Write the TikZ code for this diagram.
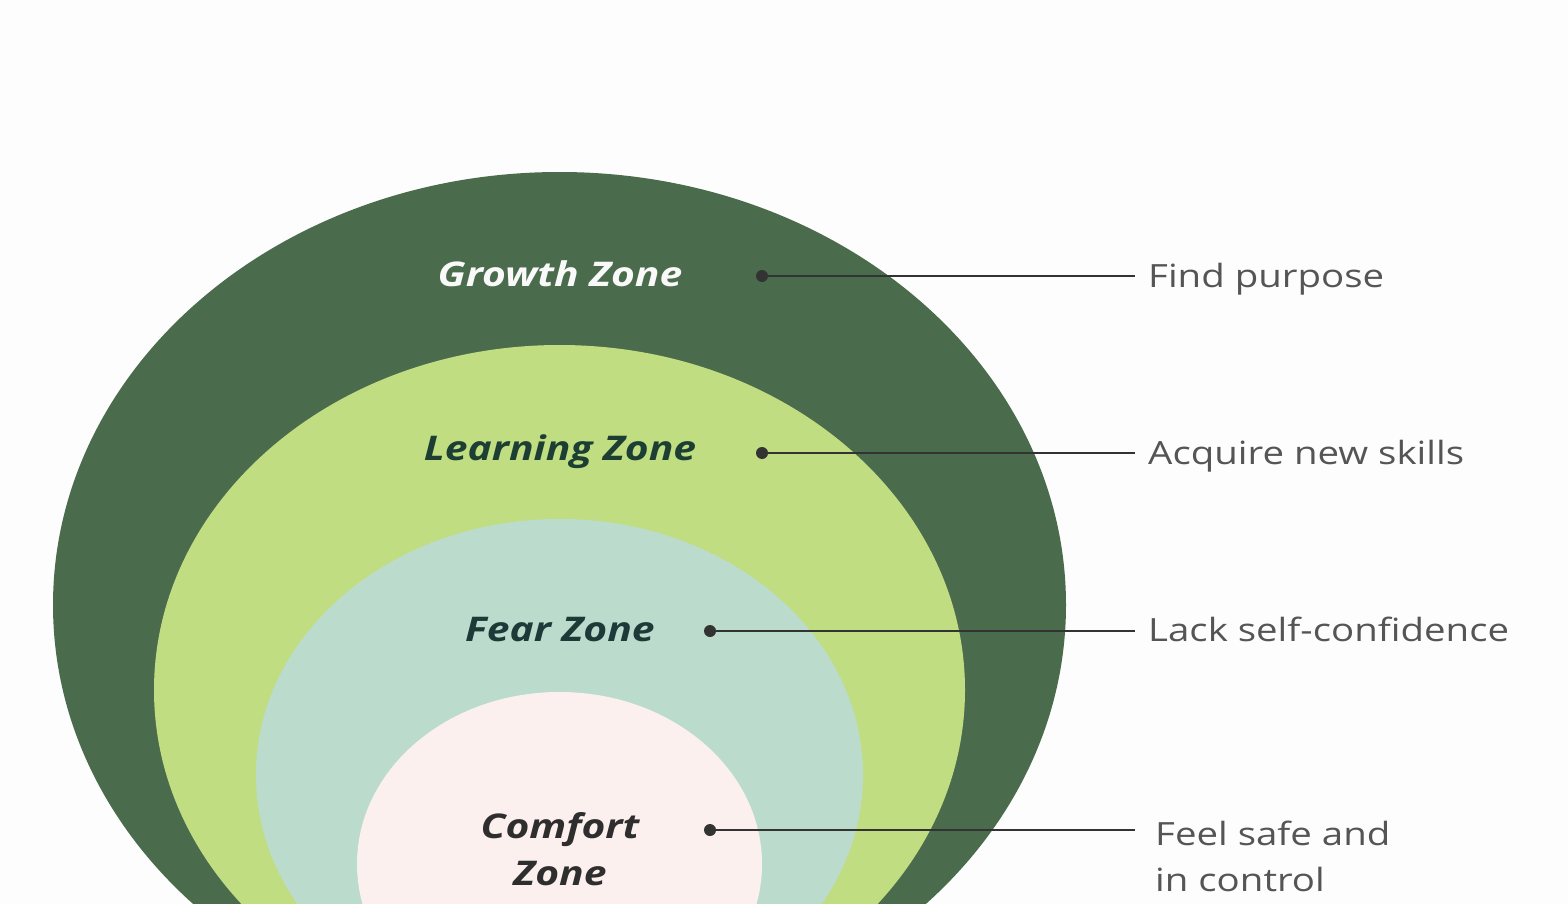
\documentclass[tikz,border=0pt]{standalone}
\usepackage{fontspec}
\setmainfont{Open Sans}[FakeStretch=1.2]
\definecolor{bgc}{HTML}{FDFDFD}
\definecolor{growth}{HTML}{4B6B4D}
\definecolor{learn}{HTML}{C0DD82}
\definecolor{fear}{HTML}{BBDCCC}
\definecolor{comfort}{HTML}{FCF0EE}
\definecolor{linec}{HTML}{333333}
\definecolor{labc}{HTML}{555555}
\definecolor{learntxt}{HTML}{1D3F33}
\definecolor{feartxt}{HTML}{1E3A38}
\definecolor{comftxt}{HTML}{2E2E2E}
\begin{document}
\begin{tikzpicture}[x=1pt,y=-1pt,
  zone/.style={font=\fontsize{34}{47}\selectfont\bfseries\itshape, align=center, inner sep=0pt},
  lab/.style={font=\fontsize{32}{46}\selectfont, text=labc, anchor=west, align=left, inner sep=0pt},
  conn/.style={draw=linec, line width=2pt},
  dotc/.style={circle, fill=linec, minimum size=12pt, inner sep=0pt}]
\useasboundingbox (0,0) rectangle (1568,904);
\fill[bgc] (0,0) rectangle (1568,904);
\begin{scope}
\clip (0,0) rectangle (1568,904);
\fill[growth] (559.5,605) ellipse [x radius=506.5, y radius=433];
\fill[learn] (559.5,690) ellipse [x radius=405.5, y radius=345];
\fill[fear] (559.5,775) ellipse [x radius=303.5, y radius=256];
\fill[comfort] (559.5,864) ellipse [x radius=202.5, y radius=172];
\end{scope}
\node[zone, text=white!96!growth] (gz) at (560,274) {Growth Zone};
\node[zone, text=learntxt] (lz) at (560,452) {Learning Zone};
\node[zone, text=feartxt] (fz) at (560,630) {Fear Zone};
\node[zone, text=comftxt, anchor=north] (cz) at (560,812) {Comfort\\Zone};
\node[dotc] (d1) at (762,276) {};
\node[dotc] (d2) at (762,453) {};
\node[dotc] (d3) at (710,631) {};
\node[dotc] (d4) at (710,830) {};
\coordinate (e1) at (1135,276);
\coordinate (e2) at (1135,453);
\coordinate (e3) at (1135,631);
\coordinate (e4) at (1135,830);
\draw[conn] (d1.center) -- (e1);
\draw[conn] (d2.center) -- (e2);
\draw[conn] (d3.center) -- (e3);
\draw[conn] (d4.center) -- (e4);
\node[lab] (l1) at (1148,279) {Find purpose};
\node[lab] (l2) at (1148,456) {Acquire new skills};
\node[lab] (l3) at (1148,629) {Lack self-confidence};
\node[lab, anchor=north west] (l4) at (1155,821) {Feel safe and\\in control};
\end{tikzpicture}
\end{document}
